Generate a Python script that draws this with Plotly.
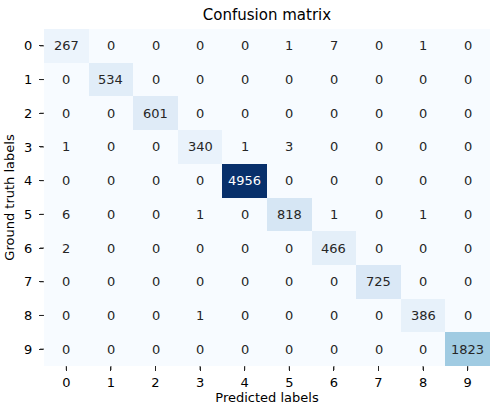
import plotly.graph_objects as go

labels = [str(i) for i in range(10)]
matrix = [
    [267, 0, 0, 0, 0, 1, 7, 0, 1, 0],
    [0, 534, 0, 0, 0, 0, 0, 0, 0, 0],
    [0, 0, 601, 0, 0, 0, 0, 0, 0, 0],
    [1, 0, 0, 340, 1, 3, 0, 0, 0, 0],
    [0, 0, 0, 0, 4956, 0, 0, 0, 0, 0],
    [6, 0, 0, 1, 0, 818, 1, 0, 1, 0],
    [2, 0, 0, 0, 0, 0, 466, 0, 0, 0],
    [0, 0, 0, 0, 0, 0, 0, 725, 0, 0],
    [0, 0, 0, 1, 0, 0, 0, 0, 386, 0],
    [0, 0, 0, 0, 0, 0, 0, 0, 0, 1823],
]

blues = ["#f7fbff", "#deebf7", "#c6dbef", "#9ecae1", "#6baed6",
         "#4292c6", "#2171b5", "#08519c", "#08306b"]
colorscale = [[i / (len(blues) - 1), c] for i, c in enumerate(blues)]

zmax = max(max(r) for r in matrix)

W, H = 490, 407
ML, MR, MT, MB = 44, 0, 29, 41
TICK = 4  # tick length in px

fig = go.Figure(go.Heatmap(
    z=matrix, x=labels, y=labels,
    colorscale=colorscale, zmin=0, zmax=zmax,
    showscale=False, hoverinfo="skip", xgap=0, ygap=0,
))

font = "DejaVu Sans"
annotations = []
for i, row in enumerate(matrix):
    for j, v in enumerate(row):
        annotations.append(dict(
            x=labels[j], y=labels[i], text=str(v), showarrow=False,
            font=dict(family=font, size=13,
                      color="white" if v / zmax > 0.6 else "#262626"),
        ))

# tick marks drawn as shapes just outside the heatmap
ph = H - MT - MB
pw = W - ML - MR
n = len(labels)
shapes = []
for k, lab in enumerate(labels):
    xp = (k + 0.5) / n
    shapes.append(dict(type="line", xref="paper", yref="paper",
                       x0=xp, x1=xp, y0=0, y1=-TICK / ph,
                       line=dict(color="#262626", width=1)))
    shapes.append(dict(type="line", xref="paper", yref="y",
                       x0=0, x1=-TICK / pw, y0=lab, y1=lab,
                       line=dict(color="#262626", width=1)))

fig.update_layout(
    width=W, height=H,
    margin=dict(l=ML, r=MR, t=MT, b=MB, pad=0),
    paper_bgcolor="white", plot_bgcolor="white",
    font=dict(family=font, size=13, color="black"),
    title=dict(text="Confusion matrix", x=0.5, xref="paper",
               y=1 - 15 / H, yref="container", yanchor="middle",
               font=dict(family=font, size=15, color="black")),
    annotations=annotations,
    shapes=shapes,
)
fig.update_xaxes(
    type="category", ticks="outside", ticklen=4, tickcolor="#262626",
    tickwidth=1, showgrid=False, zeroline=False, showline=False,
    title=dict(text="Predicted labels", standoff=4, font=dict(size=13)),
    tickfont=dict(size=13),
)
fig.update_yaxes(
    type="category", autorange="reversed", ticks="outside", ticklen=4,
    tickcolor="#262626", tickwidth=1, showgrid=False, zeroline=False,
    showline=False, ticksuffix=" ",
    title=dict(text="Ground truth labels", standoff=6, font=dict(size=13)),
    tickfont=dict(size=13),
)

fig.write_html(
    "out.html",
    config={"displayModeBar": False},
    post_script=(
        "document.body.style.margin='0';"
        "document.body.style.overflow='hidden';"
    ),
)
